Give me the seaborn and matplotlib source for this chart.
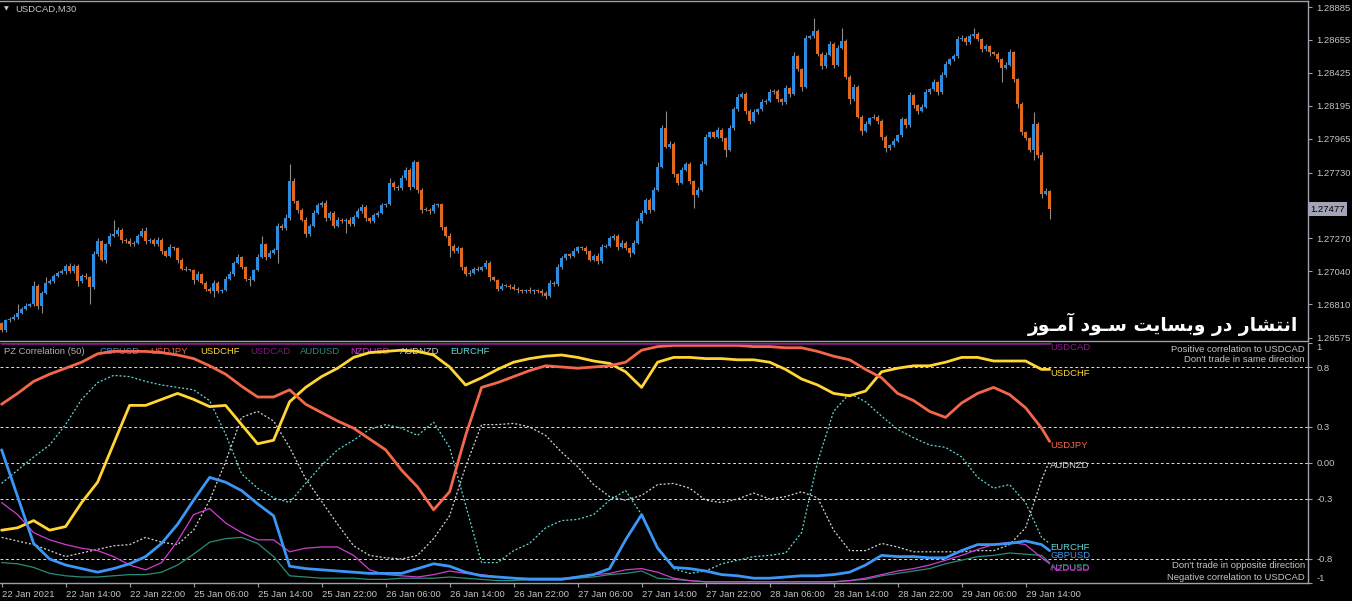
import matplotlib
matplotlib.use("Agg")
import matplotlib.pyplot as plt
import seaborn as sns
import pandas as pd


# Price data: USDCAD M30, one close per bar from 22 Jan 06:00

first_open = 1.2668

closes = [
    1.2663, 1.2670, 1.2671, 1.2672, 1.2675, 1.2678, 1.2680, 1.2681, 1.2694, 1.2680,
    1.2689, 1.2696, 1.2697, 1.2701, 1.2703, 1.2704, 1.2708, 1.2704, 1.2708, 1.2697,
    1.2701, 1.2700, 1.2693, 1.2716, 1.2725, 1.2712, 1.2723, 1.2729, 1.2730, 1.2733,
    1.2726, 1.2725, 1.2723, 1.2724, 1.2729, 1.2732, 1.2725, 1.2726, 1.2723, 1.2726,
    1.2718, 1.2715, 1.2721, 1.2720, 1.2712, 1.2706, 1.2705, 1.2705, 1.2698, 1.2702,
    1.2696, 1.2692, 1.2690, 1.2696, 1.2690, 1.2691, 1.2699, 1.2702, 1.2710, 1.2714,
    1.2707, 1.2699, 1.2698, 1.2705, 1.2714, 1.2723, 1.2714, 1.2717, 1.2719, 1.2736,
    1.2734, 1.2741, 1.2767, 1.2753, 1.2747, 1.2740, 1.2730, 1.2736, 1.2745, 1.2750,
    1.2752, 1.2741, 1.2745, 1.2736, 1.2740, 1.2739, 1.2740, 1.2737, 1.2742, 1.2746,
    1.2749, 1.2741, 1.2739, 1.2743, 1.2745, 1.2750, 1.2751, 1.2766, 1.2763, 1.2762,
    1.2769, 1.2775, 1.2763, 1.2780, 1.2761, 1.2747, 1.2747, 1.2746, 1.2750, 1.2751,
    1.2735, 1.2729, 1.2722, 1.2718, 1.2720, 1.2707, 1.2702, 1.2703, 1.2706, 1.2705,
    1.2707, 1.2710, 1.2700, 1.2698, 1.2692, 1.2694, 1.2694, 1.2693, 1.2692, 1.2691,
    1.2690, 1.2691, 1.2690, 1.2691, 1.2690, 1.2689, 1.2687, 1.2696, 1.2695, 1.2707,
    1.2713, 1.2716, 1.2715, 1.2718, 1.2721, 1.2720, 1.2718, 1.2712, 1.2715, 1.2711,
    1.2721, 1.2722, 1.2727, 1.2729, 1.2721, 1.2724, 1.2720, 1.2717, 1.2724, 1.2739,
    1.2745, 1.2754, 1.2747, 1.2761, 1.2777, 1.2804, 1.2791, 1.2793, 1.2772, 1.2766,
    1.2775, 1.2779, 1.2767, 1.2757, 1.2761, 1.2779, 1.2798, 1.2801, 1.2798, 1.2803,
    1.2797, 1.2789, 1.2804, 1.2817, 1.2826, 1.2828, 1.2816, 1.2809, 1.2815, 1.2817,
    1.2822, 1.2823, 1.2829, 1.2830, 1.2824, 1.2822, 1.2832, 1.2828, 1.2854, 1.2845,
    1.2833, 1.2867, 1.2868, 1.2872, 1.2856, 1.2847, 1.2855, 1.2863, 1.2848, 1.2860,
    1.2865, 1.2840, 1.2824, 1.2833, 1.2812, 1.2802, 1.2807, 1.2811, 1.2812, 1.2809,
    1.2798, 1.2790, 1.2792, 1.2795, 1.2799, 1.2810, 1.2806, 1.2827, 1.2820, 1.2816,
    1.2819, 1.2829, 1.2831, 1.2836, 1.2829, 1.2841, 1.2849, 1.2852, 1.2854, 1.2866,
    1.2867, 1.2864, 1.2868, 1.2870, 1.2866, 1.2859, 1.2861, 1.2857, 1.2856, 1.2852,
    1.2846, 1.2848, 1.2857, 1.2838, 1.2821, 1.2801, 1.2797, 1.2789, 1.2807, 1.2785,
    1.2758, 1.2760, 1.27477,
]

# shadow lengths in pips above / below the body
wick_up = [
    1, 1, 1, 2, 6, 1, 2, 1, 3, 1, 1, 4, 2, 1, 1, 2, 1, 2, 1, 1,
    1, 2, 1, 2, 2, 1, 1, 2, 10, 2, 1, 1, 2, 1, 1, 2, 3, 1, 1, 2,
    1, 1, 2, 1, 1, 1, 2, 1, 1, 2, 1, 1, 1, 2, 1, 1, 2, 2, 1, 2,
    1, 1, 2, 1, 2, 6, 1, 2, 1, 2, 1, 3, 12, 2, 1, 1, 2, 1, 2, 2,
    1, 2, 1, 1, 2, 1, 1, 2, 1, 2, 2, 1, 1, 2, 1, 2, 1, 3, 1, 1,
    2, 2, 1, 2, 1, 1, 2, 1, 2, 1, 1, 1, 2, 1, 2, 1, 1, 2, 1, 2,
    1, 2, 1, 1, 1, 2, 1, 1, 2, 1, 1, 1, 2, 1, 1, 2, 1, 2, 1, 2,
    2, 1, 1, 2, 1, 1, 2, 1, 1, 2, 2, 1, 2, 1, 1, 2, 1, 1, 2, 2,
    2, 1, 1, 2, 3, 2, 12, 2, 1, 1, 2, 1, 1, 1, 2, 2, 2, 1, 1, 2,
    1, 1, 2, 2, 2, 1, 1, 1, 2, 1, 2, 1, 2, 1, 1, 1, 2, 1, 3, 1,
    1, 2, 1, 9, 1, 1, 2, 2, 1, 2, 9, 1, 1, 2, 1, 1, 2, 1, 2, 1,
    1, 1, 1, 2, 1, 2, 1, 2, 1, 1, 2, 2, 1, 2, 1, 2, 2, 1, 2, 2,
    2, 1, 2, 4, 1, 1, 2, 1, 1, 1, 1, 2, 2, 1, 1, 1, 1, 1, 8, 1,
    2, 2, 1,
]

wick_dn = [
    1, 1, 1, 1, 1, 1, 1, 1, 1, 2, 5, 1, 1, 1, 1, 1, 2, 1, 1, 3,
    1, 1, 12, 1, 1, 1, 2, 1, 1, 1, 2, 1, 1, 1, 1, 1, 2, 1, 1, 1,
    2, 1, 1, 1, 2, 1, 1, 1, 3, 1, 1, 2, 1, 4, 1, 1, 1, 1, 1, 1,
    1, 2, 4, 1, 1, 1, 2, 1, 1, 9, 1, 1, 1, 1, 2, 1, 2, 1, 1, 1,
    1, 2, 1, 2, 1, 1, 8, 1, 1, 1, 1, 2, 1, 1, 1, 1, 1, 1, 2, 1,
    1, 1, 2, 1, 2, 2, 1, 2, 1, 1, 2, 1, 8, 1, 1, 2, 1, 1, 1, 1,
    1, 1, 3, 1, 2, 1, 1, 1, 1, 2, 1, 1, 1, 2, 1, 2, 2, 1, 1, 1,
    1, 1, 2, 1, 1, 1, 2, 1, 1, 2, 1, 1, 1, 1, 2, 1, 1, 3, 1, 1,
    1, 1, 2, 1, 1, 1, 1, 1, 2, 2, 1, 1, 2, 9, 1, 1, 1, 1, 1, 1,
    2, 5, 1, 1, 1, 1, 2, 2, 1, 1, 1, 1, 1, 1, 2, 2, 1, 2, 1, 1,
    3, 1, 1, 1, 2, 2, 1, 1, 2, 1, 1, 2, 3, 1, 1, 3, 1, 1, 1, 2,
    2, 3, 1, 1, 1, 1, 2, 1, 2, 2, 1, 1, 1, 1, 2, 1, 1, 1, 1, 1,
    1, 2, 1, 1, 1, 2, 1, 3, 1, 2, 10, 1, 1, 2, 3, 2, 1, 2, 7, 2,
    3, 1, 7,
]


# PZ Correlation (50), read every 4 bars

corr_bars = list(range(0, 261, 4)) + [262]

gbpusd = [
    0.11, -0.28, -0.67, -0.80, -0.85, -0.88, -0.91, -0.88, -0.84, -0.78,
    -0.67, -0.51, -0.31, -0.12, -0.16, -0.23, -0.34, -0.44, -0.86, -0.88,
    -0.89, -0.90, -0.91, -0.92, -0.92, -0.92, -0.88, -0.84, -0.86, -0.91,
    -0.94, -0.95, -0.96, -0.97, -0.97, -0.97, -0.95, -0.93, -0.88, -0.64,
    -0.43, -0.71, -0.87, -0.88, -0.90, -0.93, -0.94, -0.96, -0.96, -0.95,
    -0.94, -0.94, -0.93, -0.91, -0.85, -0.77, -0.78, -0.78, -0.79, -0.79,
    -0.73, -0.68, -0.68, -0.67, -0.65, -0.68, -0.73,
]

usdjpy = [
    0.49, 0.58, 0.68, 0.74, 0.79, 0.84, 0.91, 0.93, 0.93, 0.93,
    0.92, 0.90, 0.87, 0.81, 0.74, 0.64, 0.55, 0.55, 0.61, 0.49,
    0.42, 0.35, 0.29, 0.20, 0.11, -0.06, -0.20, -0.39, -0.24, 0.23,
    0.63, 0.67, 0.72, 0.77, 0.81, 0.80, 0.79, 0.80, 0.81, 0.84,
    0.94, 0.97, 0.98, 0.98, 0.98, 0.98, 0.98, 0.97, 0.97, 0.96,
    0.96, 0.93, 0.89, 0.86, 0.78, 0.71, 0.58, 0.52, 0.43, 0.38,
    0.50, 0.58, 0.63, 0.57, 0.46, 0.29, 0.18,
]

usdchf = [
    -0.56, -0.54, -0.48, -0.56, -0.53, -0.33, -0.16, 0.16, 0.48, 0.48,
    0.53, 0.58, 0.53, 0.47, 0.48, 0.32, 0.16, 0.19, 0.51, 0.63,
    0.72, 0.79, 0.88, 0.92, 0.93, 0.94, 0.93, 0.90, 0.80, 0.65,
    0.71, 0.78, 0.84, 0.87, 0.89, 0.90, 0.88, 0.85, 0.83, 0.76,
    0.63, 0.84, 0.88, 0.88, 0.87, 0.87, 0.86, 0.86, 0.84, 0.78,
    0.70, 0.65, 0.58, 0.56, 0.60, 0.76, 0.79, 0.81, 0.81, 0.84,
    0.88, 0.88, 0.85, 0.85, 0.85, 0.78, 0.78,
]

usdcad = [1.0] * len(corr_bars)

audusd = [
    -0.83, -0.84, -0.87, -0.92, -0.94, -0.95, -0.95, -0.94, -0.93, -0.93,
    -0.91, -0.85, -0.76, -0.66, -0.63, -0.62, -0.67, -0.78, -0.94, -0.95,
    -0.96, -0.96, -0.96, -0.97, -0.97, -0.96, -0.96, -0.96, -0.95, -0.96,
    -0.97, -0.98, -0.98, -0.97, -0.97, -0.97, -0.96, -0.95, -0.93, -0.92,
    -0.90, -0.96, -0.97, -0.98, -0.99, -0.99, -0.99, -0.99, -0.99, -0.99,
    -0.99, -0.99, -0.99, -0.98, -0.97, -0.94, -0.92, -0.90, -0.88, -0.84,
    -0.81, -0.78, -0.77, -0.75, -0.76, -0.77, -0.83,
]

nzdusd = [
    -0.33, -0.43, -0.58, -0.64, -0.68, -0.71, -0.73, -0.78, -0.85, -0.89,
    -0.83, -0.65, -0.43, -0.38, -0.50, -0.58, -0.64, -0.64, -0.74, -0.71,
    -0.70, -0.70, -0.77, -0.89, -0.93, -0.94, -0.95, -0.93, -0.90, -0.92,
    -0.93, -0.95, -0.96, -0.96, -0.96, -0.96, -0.95, -0.93, -0.92, -0.89,
    -0.88, -0.91, -0.96, -0.98, -0.99, -0.99, -0.99, -0.99, -0.99, -0.99,
    -0.99, -0.99, -0.99, -0.98, -0.96, -0.93, -0.90, -0.88, -0.85, -0.81,
    -0.77, -0.72, -0.68, -0.66, -0.68, -0.79, -0.84,
]

audnzd = [
    -0.62, -0.65, -0.68, -0.73, -0.78, -0.75, -0.72, -0.69, -0.68, -0.62,
    -0.66, -0.68, -0.56, -0.31, 0.01, 0.38, 0.43, 0.35, 0.13, -0.13,
    -0.32, -0.51, -0.69, -0.77, -0.79, -0.80, -0.77, -0.63, -0.44, -0.03,
    0.32, 0.32, 0.33, 0.30, 0.23, 0.09, -0.03, -0.18, -0.28, -0.31,
    -0.27, -0.18, -0.17, -0.21, -0.31, -0.33, -0.30, -0.25, -0.30, -0.28,
    -0.24, -0.29, -0.56, -0.73, -0.73, -0.67, -0.70, -0.74, -0.74, -0.74,
    -0.74, -0.73, -0.73, -0.68, -0.54, -0.14, 0.02,
]

eurchf = [
    -0.17, -0.06, 0.05, 0.15, 0.32, 0.53, 0.67, 0.73, 0.72, 0.68,
    0.65, 0.63, 0.61, 0.52, 0.24, -0.09, -0.21, -0.29, -0.33, -0.17,
    -0.02, 0.11, 0.19, 0.28, 0.32, 0.29, 0.23, 0.34, 0.13, -0.35,
    -0.83, -0.83, -0.73, -0.67, -0.54, -0.48, -0.47, -0.43, -0.31, -0.23,
    -0.43, -0.70, -0.88, -0.92, -0.90, -0.84, -0.81, -0.78, -0.77, -0.75,
    -0.58, 0.01, 0.43, 0.58, 0.51, 0.39, 0.28, 0.21, 0.15, 0.13,
    0.05, -0.12, -0.21, -0.18, -0.33, -0.62, -0.67,
]


# Axis labels (1.27500 sits under the current-price box, so only its tick shows)

price_ticks = [1.28885, 1.28655, 1.28425, 1.28195, 1.27965, 1.27730,
               1.27500, 1.27270, 1.27040, 1.26810, 1.26575]
price_labels = ["1.28885", "1.28655", "1.28425", "1.28195", "1.27965", "1.27730",
                "", "1.27270", "1.27040", "1.26810", "1.26575"]

corr_ticks = [1, 0.8, 0.3, 0, -0.3, -0.8, -1]
corr_labels = ["1", "0.8", "0.3", "0.00", "-0.3", "-0.8", "-1"]
level_lines = [0.8, 0.3, 0, -0.3, -0.8]

time_ticks = list(range(0, 257, 16))
time_labels = ["22 Jan 2021", "22 Jan 14:00", "22 Jan 22:00", "25 Jan 06:00",
               "25 Jan 14:00", "25 Jan 22:00", "26 Jan 06:00", "26 Jan 14:00",
               "26 Jan 22:00", "27 Jan 06:00", "27 Jan 14:00", "27 Jan 22:00",
               "28 Jan 06:00", "28 Jan 14:00", "28 Jan 22:00", "29 Jan 06:00",
               "29 Jan 14:00"]

# Arabic watermark, in visual order with joined letter forms
watermark = "\ufeaf\ufeee\u0640\ufee3\ufe81 \ufea9\ufeee\u0640\ufeb3 \ufe96\ufbfe\ufe8e\ufeb4\ufe91\ufeed \ufead\ufea9 \ufead\ufe8e\ufeb8\ufe98\ufee7\ufe8d"


# Style

sns.set_theme(style="dark", rc={
    "figure.facecolor": "black",
    "axes.facecolor": "black",
    "axes.edgecolor": "#a0a0aa",
    "axes.grid": False,
})
plt.rcParams["font.family"] = ["Liberation Sans", "DejaVu Sans"]

W, H = 1352, 601
TXT = "#c4c4c4"
EDGE = "#a0a0aa"
FS = 6.8


def fx(px):
    return px / W


def fy(py):
    return 1 - py / H


fig = plt.figure(figsize=(W / 100, H / 100), dpi=100)

ax1 = fig.add_axes([0, 260 / H, 1308 / W, 340 / H])
ax2 = fig.add_axes([0, 18 / H, 1308 / W, 240 / H])


# Candles

df = pd.DataFrame({"close": closes, "up": wick_up, "dn": wick_dn})
df["bar"] = range(len(df))
df["open"] = [first_open] + closes[:-1]
df["top"] = df[["open", "close"]].max(axis=1)
df["bottom"] = df[["open", "close"]].min(axis=1)
df["high"] = df["top"] + df["up"] * 0.0001
df["low"] = df["bottom"] - df["dn"] * 0.0001
df["color"] = ["#2d8be0" if c >= o else "#e0691e" for o, c in zip(df["open"], df["close"])]

ax1.vlines(df["bar"], df["low"], df["high"], color="#8c8c8c", linewidth=0.8, zorder=2)
ax1.bar(df["bar"], (df["top"] - df["bottom"]).clip(lower=0.00004), bottom=df["bottom"],
        width=0.72, color=df["color"], linewidth=0, zorder=3)

ax1.set_xlim(-0.4, 326.6)
ax1.set_ylim(1.26554, 1.28927)
ax1.set_xticks([])
ax1.yaxis.tick_right()
ax1.set_yticks(price_ticks)
ax1.set_yticklabels(price_labels)
ax1.tick_params(axis="y", right=True, left=False, length=3, width=0.8, color=EDGE,
                labelcolor=TXT, labelsize=FS, pad=3)
ax1.spines["left"].set_visible(False)
for side in ["top", "right", "bottom"]:
    ax1.spines[side].set_color(EDGE)
    ax1.spines[side].set_linewidth(1)
ax1.set_xlabel("")
ax1.set_ylabel("")

fig.text(fx(4), fy(9), "\u25bc", color=TXT, fontsize=4.5, va="center", ha="left",
         family="DejaVu Sans")
fig.text(fx(15), fy(9), "USDCAD,M30", color=TXT, fontsize=FS, va="center", ha="left")

fig.text(fx(1310), fy(209), "1.27477", color="black", fontsize=FS, va="center", ha="left",
         bbox=dict(boxstyle="square,pad=0.25", facecolor="#a4a4b8", edgecolor="none"))

fig.text(fx(1298), fy(324), watermark, color="white", fontsize=13.5, fontweight="bold",
         va="center", ha="right", family="DejaVu Sans")


# Correlation panel

for lvl in level_lines:
    ax2.axhline(lvl, color="#dcdcdc", linewidth=0.7, linestyle=(0, (3, 2.5)), zorder=1)

series = [
    ("AUDNZD", audnzd, "#d4d4d4", 0.9, (0, (1.6, 1.6))),
    ("EURCHF", eurchf, "#66d4d4", 0.9, (0, (1.6, 1.6))),
    ("AUDUSD", audusd, "#2a8c7a", 0.9, "-"),
    ("NZDUSD", nzdusd, "#d23cd2", 0.9, "-"),
    ("USDCHF", usdchf, "#ffd633", 2.0, "-"),
    ("USDJPY", usdjpy, "#f5674a", 2.0, "-"),
    ("GBPUSD", gbpusd, "#3b96f5", 2.0, "-"),
    ("USDCAD", usdcad, "#8a1c8a", 2.6, "-"),
]

for name, vals, col, lw, ls in series:
    sns.lineplot(x=corr_bars, y=vals, ax=ax2, color=col, linewidth=lw, linestyle=ls,
                 zorder=2)
    ax2.text(corr_bars[-1] + 0.2, vals[-1], name, color=col, fontsize=FS,
             ha="left", va="top", zorder=4)

ax2.set_xlim(-0.4, 326.6)
ax2.set_ylim(-1, 1)
ax2.yaxis.tick_right()
ax2.set_yticks(corr_ticks)
ax2.set_yticklabels(corr_labels)
ax2.tick_params(axis="y", right=True, left=False, length=3, width=0.8, color=EDGE,
                labelcolor=TXT, labelsize=FS, pad=3)
ticklabels = ax2.get_yticklabels()
ticklabels[0].set_va("top")
ticklabels[-1].set_va("bottom")

ax2.set_xticks(time_ticks)
ax2.set_xticklabels(time_labels, ha="left")
ax2.tick_params(axis="x", bottom=True, length=3, width=0.8, color=EDGE,
                labelcolor=TXT, labelsize=FS, pad=2)
for side in ["left", "top"]:
    ax2.spines[side].set_visible(False)
for side in ["right", "bottom"]:
    ax2.spines[side].set_color(EDGE)
    ax2.spines[side].set_linewidth(1)
ax2.set_xlabel("")
ax2.set_ylabel("")

# header of the indicator window
ax2.text(fx(4), fy(352), "PZ Correlation (50)", color="#b0b0b0", fontsize=FS,
         va="center", ha="left", transform=fig.transFigure, zorder=1)
header_colors = {
    "GBPUSD": "#3b8fe8", "USDJPY": "#f06048", "USDCHF": "#ffd633", "USDCAD": "#7a1a7a",
    "AUDUSD": "#2a8a8a", "NZDUSD": "#d233d2", "AUDNZD": "#d0d0d0", "EURCHF": "#5fd7d7",
}
for k, (name, col) in enumerate(header_colors.items()):
    ax2.text(fx(100 + 50 * k), fy(352), name, color=col, fontsize=FS,
             va="center", ha="left", transform=fig.transFigure, zorder=1)

fig.text(fx(1305), fy(349), "Positive correlation to USDCAD", color=TXT, fontsize=FS,
         ha="right", va="center")
fig.text(fx(1305), fy(360), "Don't trade in same direction", color=TXT, fontsize=FS,
         ha="right", va="center")
fig.text(fx(1305), fy(566), "Don't trade in opposite direction", color=TXT, fontsize=FS,
         ha="right", va="center")
fig.text(fx(1305), fy(578), "Negative correlation to USDCAD", color=TXT, fontsize=FS,
         ha="right", va="center")

plt.savefig("out.png", dpi=100, facecolor="black")
